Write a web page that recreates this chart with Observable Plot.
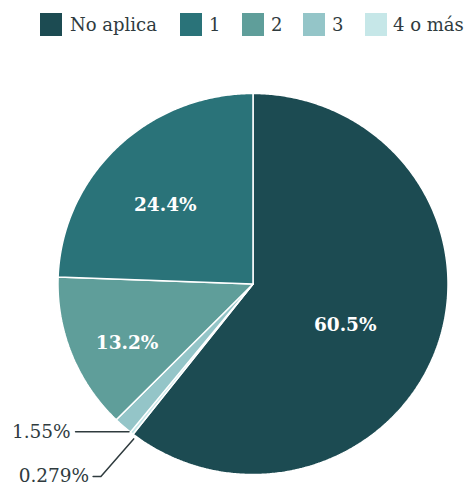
<!DOCTYPE html>
<html>
<head>
<meta charset="utf-8">
<script src="https://cdn.jsdelivr.net/npm/d3@7"></script>
<script src="https://cdn.jsdelivr.net/npm/@observablehq/plot@0.6"></script>
<style>
  html, body { margin: 0; padding: 0; background: #fff; }
  body { width: 467px; height: 486px; overflow: hidden; font-family: "DejaVu Serif", serif; }
  #legend { height: 48px; position: relative; }
  .sw { position: absolute; top: 13px; width: 22px; height: 23px; }
  .lt { position: absolute; top: 12px; font-size: 18px; color: #2f3b3e; line-height: 25px; }
  #chart svg { display: block; }
</style>
</head>
<body>
<div id="legend"></div>
<div id="chart"></div>
<script>
// Data
const categories = ["No aplica", "1", "2", "3", "4 o más"];
const values = [60.5, 24.4, 13.2, 1.55, 0.279];
const labels = ["60.5%", "24.4%", "13.2%", "1.55%", "0.279%"];
const colors = ["#1c4b52", "#2a7379", "#5f9e9a", "#94c5c8", "#c6e7e8"];
// slice order clockwise from 12 o'clock
const order = ["No aplica", "4 o más", "3", "2", "1"];

// Legend
const legendX = [[40, 70], [180, 209], [242, 271], [303, 332], [365, 393]];
const legend = document.getElementById("legend");
categories.forEach((c, i) => {
  const sw = document.createElement("div");
  sw.className = "sw"; sw.style.left = legendX[i][0] + "px"; sw.style.background = colors[i];
  const t = document.createElement("div");
  t.className = "lt"; t.style.left = legendX[i][1] + "px"; t.textContent = c;
  legend.appendChild(sw); legend.appendChild(t);
});

// Slice geometry in unit-circle data space
const total = d3.sum(values);
const valueOf = Object.fromEntries(categories.map((c, i) => [c, values[i]]));
const labelOf = Object.fromEntries(categories.map((c, i) => [c, labels[i]]));
let acc = 0;
const slices = order.map(c => {
  const a0 = acc / total * 2 * Math.PI;
  acc += valueOf[c];
  const a1 = acc / total * 2 * Math.PI;
  return {cat: c, a0, a1, mid: (a0 + a1) / 2, share: valueOf[c] / total, label: labelOf[c]};
});
const pts = [];
for (const s of slices) {
  pts.push({cat: s.cat, x: 0, y: 0});
  const n = Math.max(2, Math.ceil((s.a1 - s.a0) / (Math.PI / 360)));
  for (let k = 0; k <= n; k++) {
    const a = s.a0 + (s.a1 - s.a0) * k / n;
    pts.push({cat: s.cat, x: Math.sin(a), y: Math.cos(a)});
  }
  pts.push({cat: s.cat, x: 0, y: 0});
}
// inside labels
const inside = slices.filter(s => s.share > 0.05).map(s => {
  const r = 0.5 + 0.25 * Math.max(0, 1 - s.share / 0.6);
  return {x: r * Math.sin(s.mid), y: r * Math.cos(s.mid), label: s.label};
});
// outside labels (leader lines)
const s3 = slices.find(s => s.cat === "3");
const s4 = slices.find(s => s.cat === "4 o más");
const e3 = {x: Math.sin(s3.mid), y: Math.cos(s3.mid)};
const e4 = {x: Math.sin(s4.mid), y: Math.cos(s4.mid)};
const lead = [
  {g: "3", x: e3.x + 0.03, y: e3.y - 0.03}, {g: "3", x: -0.91, y: e3.y - 0.03},
  {g: "4", x: e4.x + 0.01, y: e4.y - 0.03}, {g: "4", x: -0.78, y: -1.01}, {g: "4", x: -0.82, y: -1.01}
];
const outside = [
  {x: -0.935, y: e3.y - 0.03, label: s3.label},
  {x: -0.84, y: -1.01, label: s4.label}
];

const chart = Plot.plot({
  width: 467, height: 438,
  marginLeft: 57.5, marginRight: 19.5, marginTop: 45, marginBottom: 12,
  x: {domain: [-1, 1], axis: null},
  y: {domain: [-1, 1], axis: null},
  color: {domain: categories, range: colors},
  style: {fontFamily: "DejaVu Serif, serif", background: "transparent", overflow: "visible"},
  marks: [
    Plot.line(pts, {x: "x", y: "y", z: "cat", fill: "cat", stroke: "white", strokeWidth: 1.5, strokeLinejoin: "miter", curve: "linear"}),
    Plot.text(inside, {x: "x", y: "y", text: "label", fill: "white", fontWeight: "bold", fontSize: 18.5, dy: 10}),
    Plot.line(lead, {x: "x", y: "y", z: "g", stroke: "#2f3b3e", strokeWidth: 1.5}),
    Plot.text(outside, {x: "x", y: "y", text: "label", textAnchor: "end", fill: "#2f3b3e", fontSize: 18.5})
  ]
});
document.getElementById("chart").appendChild(chart);
</script>
</body>
</html>
